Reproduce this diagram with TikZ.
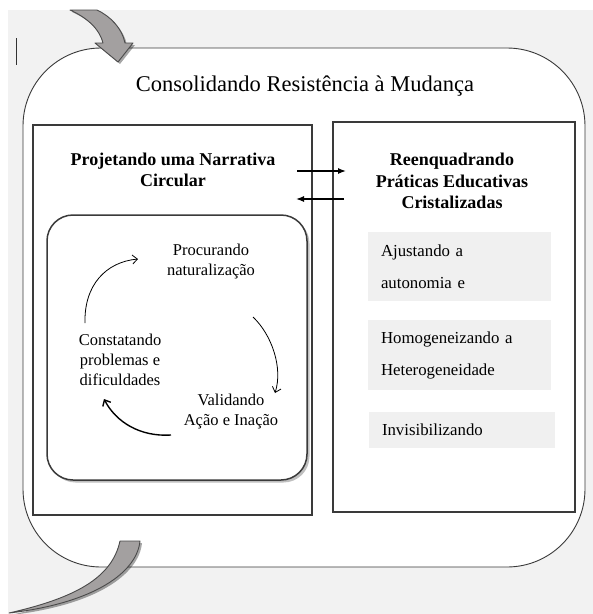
\documentclass[tikz,border=0pt]{standalone}
\usepackage{fontspec}
\setmainfont{Liberation Serif}
\usetikzlibrary{arrows.meta,shadows}

\definecolor{pagebg}{HTML}{F2F2F2}
\definecolor{boxfill}{HTML}{F0F0F0}
\definecolor{edge}{HTML}{3A3A3A}
\definecolor{blockfill}{HTML}{A3A0A0}
\definecolor{blockedge}{HTML}{4A4A4A}

\tikzset{
  outerbox/.style={draw=edge, line width=0.9pt, fill=white, rounded corners=78pt,
    inner sep=0pt, outer sep=0pt},
  panel/.style={draw=edge, line width=1.1pt, fill=white, inner sep=0pt, outer sep=0pt,
    drop shadow={shadow xshift=1.4pt, shadow yshift=-1.4pt, opacity=0.45, fill=black!70}},
  cyclebox/.style={draw=edge, line width=1.5pt, fill=white, rounded corners=26pt,
    inner sep=0pt, outer sep=0pt,
    drop shadow={shadow xshift=2.5pt, shadow yshift=-2.5pt, opacity=0.25, fill=black}},
  graybox/.style={fill=boxfill, inner xsep=13pt, inner ysep=0pt, align=left,
    font=\fontsize{16.8}{32}\selectfont, anchor=center},
  maintitle/.style={font=\fontsize{22.5}{26}\selectfont},
  paneltitle/.style={font=\bfseries\fontsize{18}{21.5}\selectfont, align=center},
  steptext/.style={font=\fontsize{16.5}{20}\selectfont, align=center},
  cyclearrow/.style={line width=0.8pt, -{Straight Barb[length=5pt,width=9pt]}},
  linkarrow/.style={line width=1.3pt, -{Latex[length=8pt,width=6pt]}},
  blockarrow/.style={fill=blockfill, draw=blockedge, line width=0.9pt, line join=round,
    drop shadow={shadow xshift=2pt, shadow yshift=-2pt, opacity=0.35, fill=black}},
}

\begin{document}
\begin{tikzpicture}[x=1pt, y=-1pt]
  \useasboundingbox (0,0) rectangle (593,614);
  % page and grey canvas
  \fill[white] (0,0) rectangle (593,614);
  \fill[pagebg] (8,10) rectangle (593,614);
  \draw[line width=1pt, black!80] (16,38) -- (16,65);

  % outer frame with its title
  \node[outerbox, minimum width=562pt, minimum height=519pt] (outer) at (304,307.5) {};
  \node[maintitle] (title) at (305,86) {Consolidando Resistência à Mudança};

  % the two panels
  \node[panel, minimum width=279pt, minimum height=390pt] (leftpanel) at (172.5,320) {};
  \node[panel, minimum width=242pt, minimum height=390pt] (rightpanel) at (454,317) {};

  \node[paneltitle] (lefttitle) at (173,170) {Projetando uma Narrativa\\Circular};
  \node[paneltitle] (righttitle) at (452,181) {Reenquadrando\\Práticas Educativas\\Cristalizadas};

  % links between the panels
  \coordinate (goA) at (297,171);
  \coordinate (goB) at (346,171);
  \coordinate (backA) at (344,199);
  \coordinate (backB) at (296,199);
  \draw[linkarrow] (goA) -- (goB);
  \draw[linkarrow] (backA) -- (backB);

  % circular narrative
  \node[cyclebox, minimum width=260pt, minimum height=265pt] (cycle) at (177,347.5) {};
  \node[steptext] (procura) at (211,262) {Procurando\\naturalização};
  \node[steptext] (constata) at (120,360) {Constatando\\problemas e\\dificuldades};
  \node[steptext] (valida) at (231,412) {Validando\\Ação e Inação};

  \coordinate (c1s) at (85,323);
  \coordinate (c1e) at (138,259);
  \coordinate (c2s) at (253,317);
  \coordinate (c2e) at (275,393);
  \coordinate (c3s) at (171,435);
  \coordinate (c3e) at (104,399);
  \draw[cyclearrow] (c1s) .. controls (84,285) and (106,262) .. (c1e);
  \draw[cyclearrow] (c2s) .. controls (272,335) and (283,368) .. (c2e);
  \draw[cyclearrow, line width=1.4pt] (c3s) .. controls (140,437) and (116,422) .. (c3e);

  % practices in the right panel
  \node[graybox, text width=157pt, minimum height=69pt] (ajusta) at (459.5,266.5)
    {Ajustando a\\autonomia e};
  \node[graybox, text width=157pt, minimum height=70pt] (homog) at (459.5,355)
    {Homogeneizando a\\Heterogeneidade};
  \node[graybox, text width=160pt, minimum height=36pt] (invis) at (462,430)
    {Invisibilizando};

  % curved block arrows entering and leaving the frame
  \path[blockarrow] (70,10) .. controls (88,18) and (100,30) .. (103,43)
    -- (95,43) -- (118,62) -- (133,43) -- (125,43)
    .. controls (122,28) and (110,16) .. (97,10) -- cycle;
  \path[blockarrow] (120,541) -- (140,541)
    .. controls (137,572) and (95,603) .. (9,613)
    .. controls (75,598) and (112,578) .. (120,541) -- cycle;
\end{tikzpicture}
\end{document}
